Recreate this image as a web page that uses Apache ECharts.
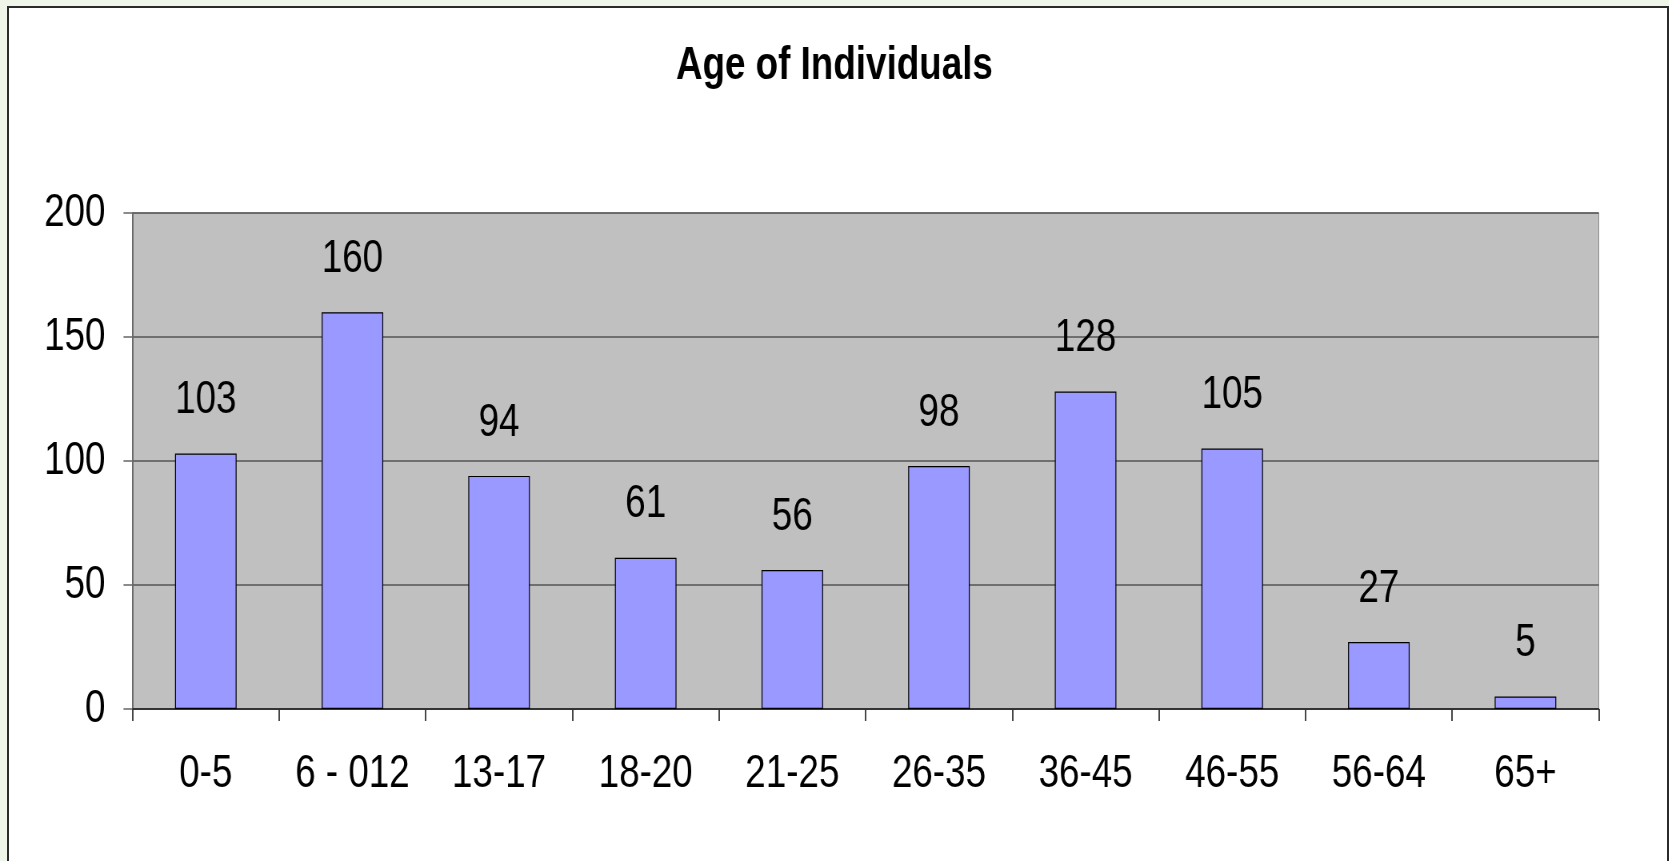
<!DOCTYPE html>
<html>
<head>
<meta charset="utf-8">
<title>Age of Individuals</title>
<script src="https://cdn.jsdelivr.net/npm/echarts@6/dist/echarts.min.js"></script>
<style>
  html, body {
    margin: 0;
    padding: 0;
    width: 1669px;
    height: 861px;
    overflow: hidden;
    background: #eff5e8;
  }
  .frame {
    position: absolute;
    left: 7px;
    top: 6px;
    width: 1658px;
    height: 900px;
    background: #fff;
    border: 2px solid #2b2b2b;
  }
  /* the original uses a narrow font; squeeze the whole chart horizontally */
  #chart {
    position: absolute;
    left: 0;
    top: 0;
    height: 861px;
    transform-origin: 0 0;
  }
</style>
</head>
<body>
<div class="frame"></div>
<div id="chart"></div>
<script>
// age groups and counts
const ageGroups = ['0-5', '6 - 012', '13-17', '18-20', '21-25', '26-35', '36-45', '46-55', '56-64', '65+']
const counts = [103, 160, 94, 61, 56, 98, 128, 105, 27, 5]
const yTicks = { min: 0, max: 200, interval: 50 }

const squeeze = 0.8
const pageW = 1669
const fontName = "'Liberation Sans', Arial, sans-serif"

const el = document.getElementById('chart')
el.style.width = (pageW / squeeze) + 'px'
el.style.transform = 'scaleX(' + squeeze + ')'

const chart = echarts.init(el, null, { renderer: 'canvas' })

const option = {
  backgroundColor: 'transparent',
  animation: false,
  title: {
    text: 'Age of Individuals',
    left: 'center',
    top: 38,
    textStyle: {
      fontFamily: fontName,
      fontWeight: 'bold',
      fontSize: 46,
      color: '#000'
    }
  },
  grid: {
    show: true,
    left: 132.5 / squeeze,
    right: 70 / squeeze,
    top: 213,
    bottom: 152,
    backgroundColor: '#c0c0c0',
    borderColor: '#8a8a8a',
    borderWidth: 1
  },
  xAxis: {
    type: 'category',
    data: ageGroups,
    boundaryGap: true,
    axisLine: {
      show: true,
      lineStyle: { color: '#222', width: 1.5 }
    },
    axisTick: {
      show: true,
      interval: 0,
      length: 12,
      lineStyle: { color: '#333', width: 1.8 }
    },
    axisLabel: {
      interval: 0,
      margin: 42,
      fontFamily: fontName,
      fontSize: 46,
      color: '#000'
    },
    splitLine: { show: false }
  },
  yAxis: {
    type: 'value',
    min: yTicks.min,
    max: yTicks.max,
    interval: yTicks.interval,
    axisLine: {
      show: true,
      lineStyle: { color: '#666', width: 1.8 }
    },
    axisTick: {
      show: true,
      length: 9 / squeeze,
      lineStyle: { color: '#666', width: 1.5 }
    },
    axisLabel: {
      margin: 27 / squeeze,
      fontFamily: fontName,
      fontSize: 46,
      color: '#000'
    },
    splitLine: {
      show: true,
      lineStyle: { color: '#555', width: 1.5 }
    }
  },
  series: [
    {
      type: 'bar',
      data: counts,
      barWidth: '42%',
      itemStyle: {
        color: '#9999ff',
        borderColor: '#000',
        borderWidth: 1.2
      },
      label: {
        show: true,
        position: 'top',
        distance: 30,
        fontFamily: fontName,
        fontSize: 46,
        color: '#000'
      }
    }
  ]
}

chart.setOption(option)
</script>
</body>
</html>
